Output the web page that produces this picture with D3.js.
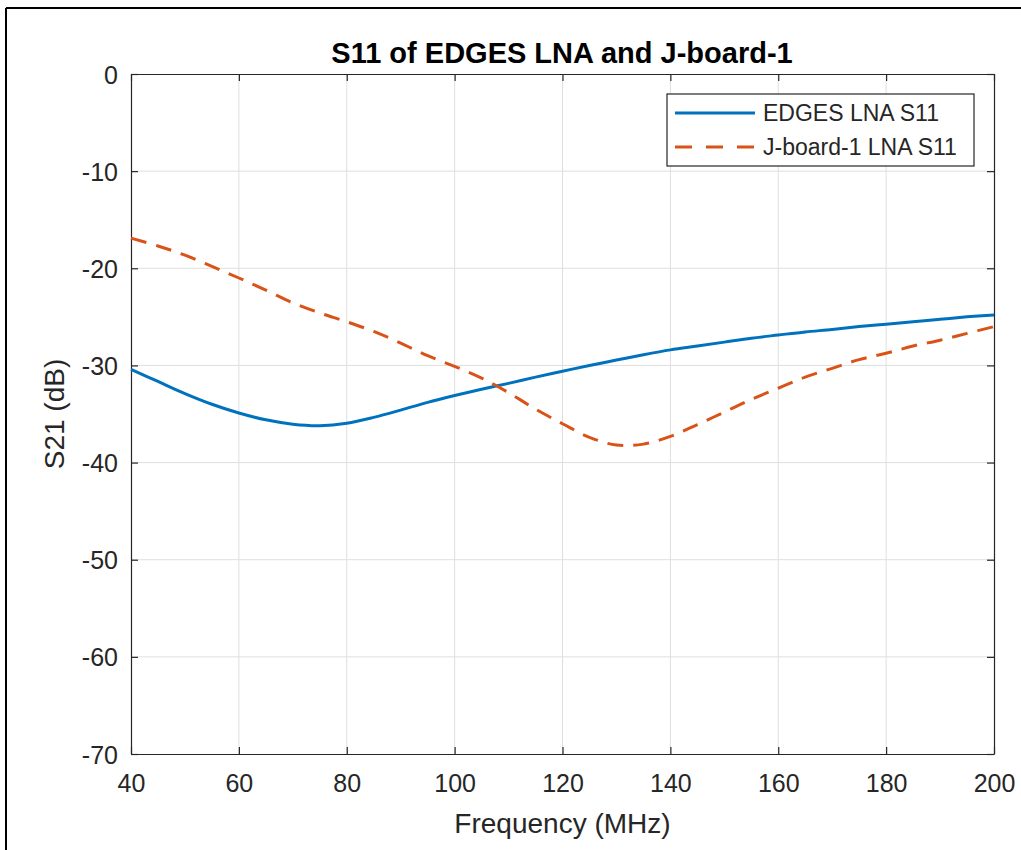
<!DOCTYPE html>
<html>
<head>
<meta charset="utf-8">
<script src="https://cdn.jsdelivr.net/npm/d3@7"></script>
<style>
  body { margin: 0; background: #fff; }
  svg { display: block; font-family: "Liberation Sans", Arial, sans-serif; }
</style>
</head>
<body>
<svg id="chart"></svg>
<script>
const width = 1021;
const height = 850;

// Frequencies (MHz) and S11 values (dB)
const freq = [40, 45, 50, 55, 60, 65, 70, 75, 80, 85, 90, 95, 100, 105, 110, 115, 120,
  125, 130, 135, 140, 145, 150, 155, 160, 165, 170, 175, 180, 185, 190, 195, 200];
const edges = [-30.4, -31.65, -32.9, -34.0, -34.9, -35.6, -36.05, -36.2, -35.95, -35.35, -34.6,
  -33.8, -33.1, -32.45, -31.85, -31.2, -30.6, -30.0, -29.45, -28.9, -28.4, -28.0, -27.6,
  -27.2, -26.87, -26.55, -26.3, -26.0, -25.75, -25.5, -25.25, -25.0, -24.8];
const jboard = [-16.9, -17.7, -18.65, -19.8, -21.0, -22.25, -23.55, -24.6, -25.5, -26.5, -27.7,
  -29.0, -30.1, -31.3, -32.8, -34.5, -36.0, -37.4, -38.2, -38.1, -37.3, -36.1, -34.8,
  -33.5, -32.35, -31.2, -30.3, -29.4, -28.75, -28.0, -27.4, -26.7, -26.0];

const xTicks = [40, 60, 80, 100, 120, 140, 160, 180, 200];
const yTicks = [0, -10, -20, -30, -40, -50, -60, -70];
const seriesNames = ["EDGES LNA S11", "J-board-1 LNA S11"];

const margin = { left: 131, top: 74, right: 27, bottom: 96 };
const w = width - margin.left - margin.right;
const h = height - margin.top - margin.bottom;
const axisColor = "#262626";

const svg = d3.select("#chart")
  .attr("width", width)
  .attr("height", height);

// figure border (top and left edges visible)
svg.append("line").attr("x1", 6).attr("x2", width).attr("y1", 8).attr("y2", 8)
  .attr("stroke", "#000").attr("stroke-width", 2);
svg.append("line").attr("x1", 6).attr("x2", 6).attr("y1", 8).attr("y2", height)
  .attr("stroke", "#000").attr("stroke-width", 2);

const x = d3.scaleLinear().domain([40, 200]).range([0, w]);
const y = d3.scaleLinear().domain([-70, 0]).range([h, 0]);

const g = svg.append("g").attr("transform", `translate(${margin.left},${margin.top})`);

// grid
g.append("g").selectAll("line").data(xTicks.slice(1, -1)).join("line")
  .attr("x1", d => x(d)).attr("x2", d => x(d)).attr("y1", 0).attr("y2", h)
  .attr("stroke", "#dfdfdf").attr("stroke-width", 1);
g.append("g").selectAll("line").data(yTicks.slice(1, -1)).join("line")
  .attr("y1", d => y(d)).attr("y2", d => y(d)).attr("x1", 0).attr("x2", w)
  .attr("stroke", "#dfdfdf").attr("stroke-width", 1);

// axes (inward ticks, box on)
const tickLen = 7;
const fmt = d => String(d);
const xAxis = g.append("g").attr("transform", `translate(0,${h})`)
  .call(d3.axisBottom(x).tickValues(xTicks).tickFormat(fmt).tickSizeInner(-tickLen).tickSizeOuter(0).tickPadding(20));
const xTop = g.append("g")
  .call(d3.axisTop(x).tickValues(xTicks).tickSizeInner(-tickLen).tickSizeOuter(0).tickFormat(""));
const yAxis = g.append("g")
  .call(d3.axisLeft(y).tickValues(yTicks).tickFormat(fmt).tickSizeInner(-tickLen).tickSizeOuter(0).tickPadding(13));
const yRight = g.append("g").attr("transform", `translate(${w},0)`)
  .call(d3.axisRight(y).tickValues(yTicks).tickSizeInner(-tickLen).tickSizeOuter(0).tickFormat(""));

[xAxis, xTop, yAxis, yRight].forEach(a => {
  a.select(".domain").attr("stroke", axisColor).attr("stroke-width", 1.2);
  a.selectAll(".tick line").attr("stroke", axisColor).attr("stroke-width", 1.2);
  a.selectAll(".tick text").attr("fill", axisColor)
    .style("font-size", "25px").style("font-family", "'Liberation Sans', Arial, sans-serif");
});
yAxis.selectAll(".tick text").attr("dy", "0.36em");

// lines
const line = d3.line()
  .x((d, i) => x(freq[i]))
  .y(d => y(d))
  .curve(d3.curveCatmullRom.alpha(0.5));

g.append("path").datum(edges)
  .attr("fill", "none").attr("stroke", "#0072BD").attr("stroke-width", 3)
  .attr("d", line);
g.append("path").datum(jboard)
  .attr("fill", "none").attr("stroke", "#D95319").attr("stroke-width", 3)
  .attr("stroke-dasharray", "16,10")
  .attr("d", line);

// title and labels
svg.append("text").attr("x", 562).attr("y", 63).attr("text-anchor", "middle")
  .style("font-size", "29px").style("font-weight", "bold").attr("fill", "#000")
  .text("S11 of EDGES LNA and J-board-1");
svg.append("text").attr("x", margin.left + w / 2).attr("y", 833).attr("text-anchor", "middle")
  .style("font-size", "28px").attr("fill", axisColor)
  .text("Frequency (MHz)");
svg.append("text")
  .attr("transform", `translate(64,${margin.top + h / 2}) rotate(-90)`)
  .attr("text-anchor", "middle")
  .style("font-size", "28px").attr("fill", axisColor)
  .text("S21 (dB)");

// legend
const legend = svg.append("g").attr("transform", "translate(667,94)");
legend.append("rect").attr("width", 307).attr("height", 72)
  .attr("fill", "#fff").attr("stroke", axisColor).attr("stroke-width", 1.2);
const rows = legend.selectAll("g.row").data(seriesNames).join("g")
  .attr("class", "row")
  .attr("transform", (d, i) => `translate(0,${19 + i * 34})`);
rows.append("line").attr("x1", 8).attr("x2", 88)
  .attr("stroke", (d, i) => i === 0 ? "#0072BD" : "#D95319")
  .attr("stroke-width", 3)
  .attr("stroke-dasharray", (d, i) => i === 0 ? null : "17,14");
rows.append("text").attr("x", 96).attr("dy", "0.36em")
  .style("font-size", "23px").attr("fill", axisColor)
  .text(d => d);
</script>
</body>
</html>
